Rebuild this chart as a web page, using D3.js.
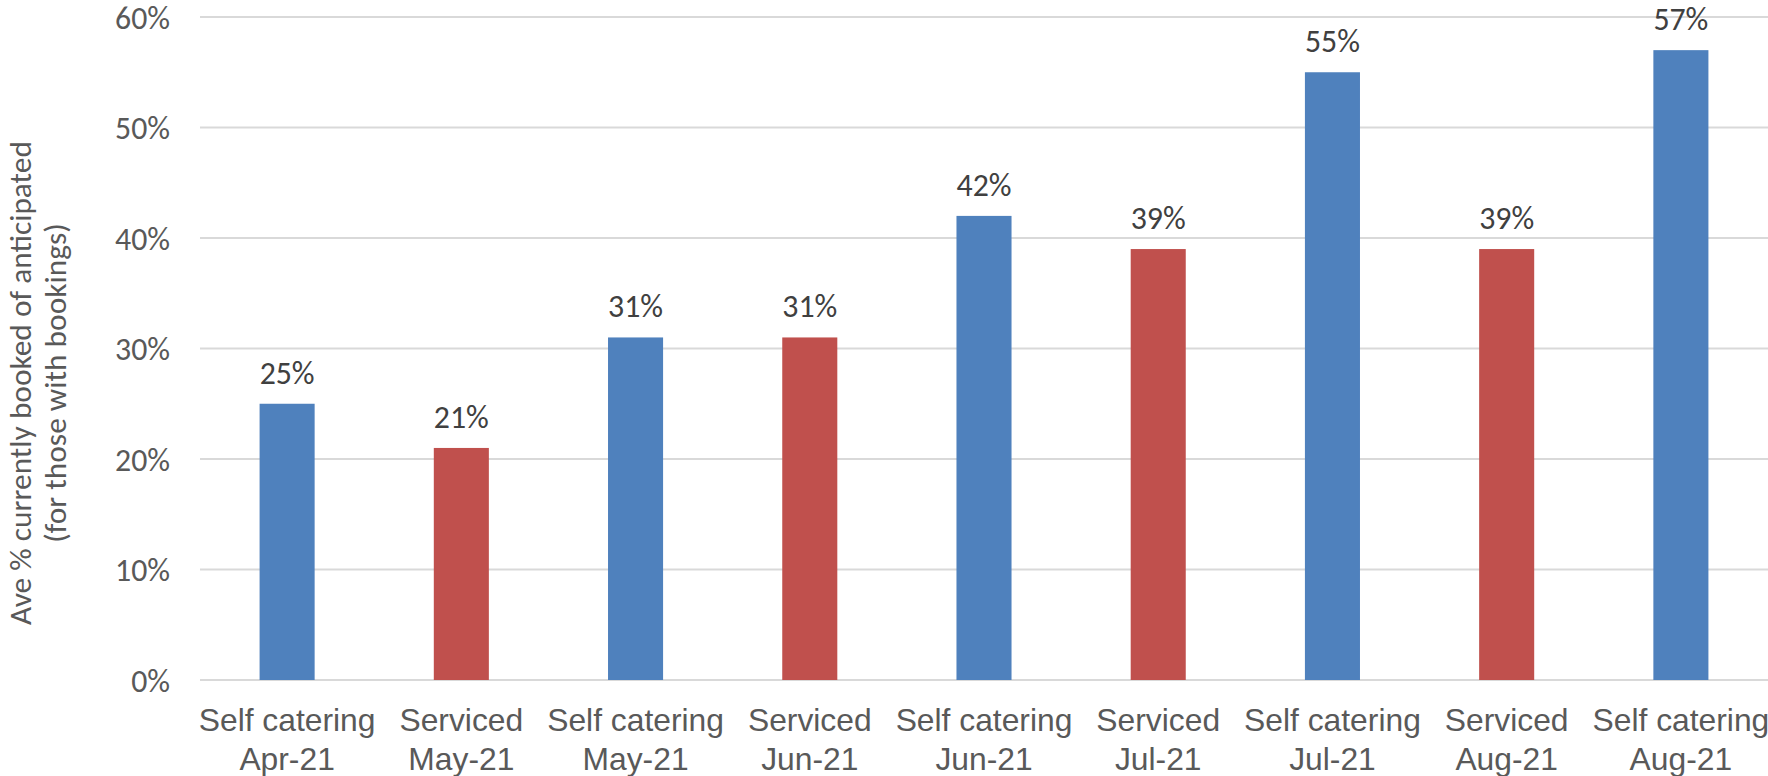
<!DOCTYPE html>
<html>
<head>
<meta charset="utf-8">
<script src="https://cdn.jsdelivr.net/npm/d3@7"></script>
<style>
  html, body { margin: 0; padding: 0; background: #fff; }
  svg { display: block; font-family: Carlito, Lato, "Open Sans", sans-serif; }
</style>
</head>
<body>
<svg id="chart" width="1768" height="776"></svg>
<script>
// Accommodation type per bar (first label line)
const types = ["Self catering", "Serviced", "Self catering", "Serviced", "Self catering",
               "Serviced", "Self catering", "Serviced", "Self catering"];
// Month per bar (second label line)
const months = ["Apr-21", "May-21", "May-21", "Jun-21", "Jun-21",
                "Jul-21", "Jul-21", "Aug-21", "Aug-21"];
// Average % currently booked of anticipated
const values = [25, 21, 31, 31, 42, 39, 55, 39, 57];
// Y axis ticks
const yTicks = [0, 10, 20, 30, 40, 50, 60];
// Y axis title lines
const titleLines = ["Ave % currently booked of anticipated", "(for those with bookings)"];

const colorFor = { "Self catering": "#4F81BD", "Serviced": "#C0504D" };

const svg = d3.select("#chart");
const margin = { top: 17, right: 0, bottom: 96, left: 200 };
const W = 1768, H = 776;

// Font size that gives a text the wanted width
function fitSize(str, width) {
  const probe = svg.append("text").style("font-size", "100px").text(str);
  const size = 100 * width / probe.node().getComputedTextLength();
  probe.remove();
  return size.toFixed(2) + "px";
}
const fs = fitSize("Self catering", 159);
const titleFs = fitSize(titleLines[0], 484);

const x = d3.scaleBand()
  .domain(d3.range(values.length))
  .range([margin.left, W - margin.right])
  .paddingInner(0.684)
  .paddingOuter(0.342);

const y = d3.scaleLinear()
  .domain([0, 60])
  .range([H - margin.bottom, margin.top]);

// Gridlines
svg.append("g")
  .selectAll("line")
  .data(yTicks)
  .join("line")
  .attr("x1", margin.left)
  .attr("x2", W - margin.right)
  .attr("y1", d => y(d))
  .attr("y2", d => y(d))
  .attr("stroke", "#d9d9d9")
  .attr("stroke-width", 2);

// Y axis labels
const yAxis = d3.axisLeft(y)
  .tickValues(yTicks)
  .tickFormat(d => d + "%")
  .tickSize(0)
  .tickPadding(0);
const gy = svg.append("g")
  .attr("transform", `translate(${margin.left - 30},0)`)
  .call(yAxis);
gy.select(".domain").remove();
gy.selectAll("text")
  .attr("fill", "#595959")
  .attr("dy", "0.36em")
  .style("font-size", fs)
  .style("font-family", "Carlito, Lato, 'Open Sans', sans-serif");

// Bars
svg.append("g")
  .selectAll("rect")
  .data(values)
  .join("rect")
  .attr("x", (d, i) => x(i))
  .attr("width", x.bandwidth())
  .attr("y", d => y(d))
  .attr("height", d => y(0) - y(d))
  .attr("fill", (d, i) => colorFor[types[i]]);

// Value labels
svg.append("g")
  .selectAll("text")
  .data(values)
  .join("text")
  .attr("x", (d, i) => x(i) + x.bandwidth() / 2)
  .attr("y", d => y(d) - 20)
  .attr("text-anchor", "middle")
  .attr("fill", "#404040")
  .style("font-size", fs)
  .text(d => d + "%");

// X axis category labels (two lines)
const xAxis = d3.axisBottom(x).tickSize(0).tickFormat("");
const gx = svg.append("g")
  .attr("transform", `translate(0,${y(0)})`)
  .call(xAxis);
gx.select(".domain").remove();
gx.selectAll(".tick").each(function (i) {
  const t = d3.select(this).append("text")
    .attr("text-anchor", "middle")
    .attr("fill", "#595959")
    .style("font-size", fs);
  t.append("tspan").attr("x", 0).attr("y", 51).text(types[i]);
  t.append("tspan").attr("x", 0).attr("y", 90).text(months[i]);
});

// Y axis title
const title = svg.append("text")
  .attr("transform", "translate(0,383) rotate(-90)")
  .attr("text-anchor", "middle")
  .attr("fill", "#595959")
  .style("font-size", titleFs);
title.append("tspan").attr("x", 0).attr("y", 31).text(titleLines[0]);
title.append("tspan").attr("x", 0).attr("y", 66).text(titleLines[1]);
</script>
</body>
</html>
